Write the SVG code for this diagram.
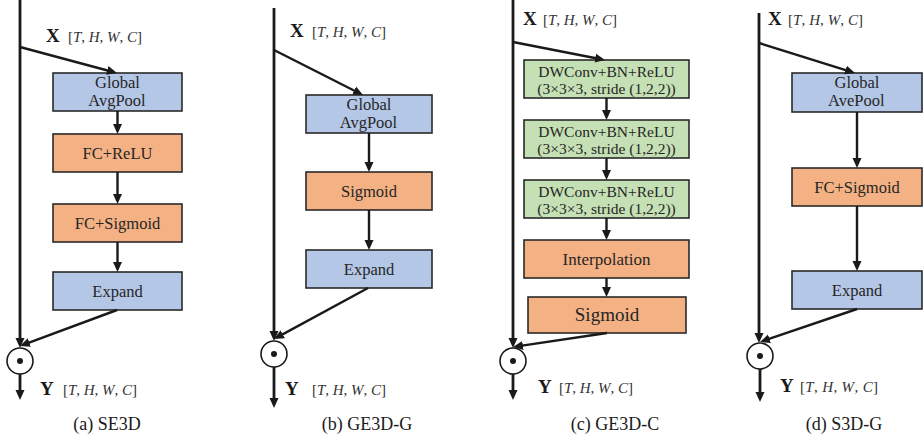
<svg xmlns="http://www.w3.org/2000/svg" width="923" height="442" viewBox="0 0 923 442">
<defs>
<marker id="ah" markerUnits="userSpaceOnUse" markerWidth="10" markerHeight="10" refX="6" refY="5" orient="auto">
<path d="M0,0.5 L10,5 L0,9.5 z" fill="#1a1a1a"/>
</marker>
</defs>
<style>
.bg{fill:#ffffff}
.box{stroke:#2a2a2a;stroke-width:1.6}
.blue{fill:#b4c7e7}
.orange{fill:#f4b183}
.green{fill:#c5e0b4}
.lab{font-size:19px;font-weight:bold;fill:#1a1a1a}
.math{font-size:15px;fill:#333}
.it{font-style:italic}
.arr{stroke:#1a1a1a;stroke-width:2.4;fill:none;marker-end:url(#ah)}
.mainarr{stroke:#1a1a1a;stroke-width:2.8;fill:none;marker-end:url(#ah)}
.odot{fill:#fff;stroke:#1a1a1a;stroke-width:1.6}
</style>
<rect class="bg" x="0" y="0" width="923" height="442"/>

<!-- Panel (a) -->
<g id="a_X"><text class="lab" x="46" y="42" style="font-family:'Liberation Serif',serif">X</text><text class="math" x="68" y="42" textLength="74" lengthAdjust="spacing" style="font-family:'Liberation Serif',serif">[<tspan class="it">T</tspan>, <tspan class="it">H</tspan>, <tspan class="it">W</tspan>, <tspan class="it">C</tspan>]</text></g>
<g id="a_gap"><rect class="box blue" x="53" y="73" width="129" height="38"/><text x="95" y="88" style="font-family:'Liberation Serif',serif;font-size:16.5px;fill:#262626">Global</text><text x="88.2" y="106" style="font-family:'Liberation Serif',serif;font-size:16.5px;fill:#262626">AvgPool</text></g>
<g id="a_fcrelu"><rect class="box orange" x="53" y="134" width="129" height="38"/><text x="82.6" y="159" style="font-family:'Liberation Serif',serif;font-size:16.5px;fill:#262626">FC+ReLU</text></g>
<g id="a_fcsig"><rect class="box orange" x="53" y="204" width="129" height="38"/><text x="74.8" y="229" style="font-family:'Liberation Serif',serif;font-size:16.5px;fill:#262626">FC+Sigmoid</text></g>
<g id="a_expand"><rect class="box blue" x="53" y="272" width="129" height="38"/><text x="92.3" y="297" style="font-family:'Liberation Serif',serif;font-size:16.5px;fill:#262626">Expand</text></g>
<g id="a_mul"><circle class="odot" cx="20" cy="361" r="13"/><circle cx="20" cy="361" r="3" fill="#1a1a1a"/></g>
<g id="a_Y"><text class="lab" x="40" y="395" style="font-family:'Liberation Serif',serif">Y</text><text class="math" x="63" y="395" textLength="74" lengthAdjust="spacing" style="font-family:'Liberation Serif',serif">[<tspan class="it">T</tspan>, <tspan class="it">H</tspan>, <tspan class="it">W</tspan>, <tspan class="it">C</tspan>]</text></g>
<text x="73.3" y="430" style="font-family:'Liberation Serif',serif;font-size:18px;fill:#1a1a1a">(a) SE3D</text>

<!-- Panel (b) -->
<g id="b_X"><text class="lab" x="290" y="37" style="font-family:'Liberation Serif',serif">X</text><text class="math" x="312" y="37" textLength="74" lengthAdjust="spacing" style="font-family:'Liberation Serif',serif">[<tspan class="it">T</tspan>, <tspan class="it">H</tspan>, <tspan class="it">W</tspan>, <tspan class="it">C</tspan>]</text></g>
<g id="b_gap"><rect class="box blue" x="306" y="95" width="126" height="38"/><text x="346.5" y="110" style="font-family:'Liberation Serif',serif;font-size:16.5px;fill:#262626">Global</text><text x="339.7" y="128" style="font-family:'Liberation Serif',serif;font-size:16.5px;fill:#262626">AvgPool</text></g>
<g id="b_sig"><rect class="box orange" x="306" y="172" width="126" height="38"/><text x="341" y="197" style="font-family:'Liberation Serif',serif;font-size:16.5px;fill:#262626">Sigmoid</text></g>
<g id="b_expand"><rect class="box blue" x="306" y="250" width="126" height="38"/><text x="343.8" y="275" style="font-family:'Liberation Serif',serif;font-size:16.5px;fill:#262626">Expand</text></g>
<g id="b_mul"><circle class="odot" cx="274" cy="354" r="13"/><circle cx="274" cy="354" r="3" fill="#1a1a1a"/></g>
<g id="b_Y"><text class="lab" x="285" y="395" style="font-family:'Liberation Serif',serif">Y</text><text class="math" x="312" y="395" textLength="74" lengthAdjust="spacing" style="font-family:'Liberation Serif',serif">[<tspan class="it">T</tspan>, <tspan class="it">H</tspan>, <tspan class="it">W</tspan>, <tspan class="it">C</tspan>]</text></g>
<text x="321.8" y="430" style="font-family:'Liberation Serif',serif;font-size:18px;fill:#1a1a1a">(b) GE3D-G</text>

<!-- Panel (c) -->
<g id="c_X"><text class="lab" x="523" y="25" style="font-family:'Liberation Serif',serif">X</text><text class="math" x="543" y="25" textLength="74" lengthAdjust="spacing" style="font-family:'Liberation Serif',serif">[<tspan class="it">T</tspan>, <tspan class="it">H</tspan>, <tspan class="it">W</tspan>, <tspan class="it">C</tspan>]</text></g>
<g id="c_dw1"><rect class="box green" x="524" y="60" width="165" height="38"/><text x="538.3" y="77" style="font-family:'Liberation Serif',serif;font-size:15.5px;fill:#262626">DWConv+BN+ReLU</text><text x="537.3" y="94" style="font-family:'Liberation Serif',serif;font-size:15.5px;fill:#262626">(3×3×3, stride (1,2,2))</text></g>
<g id="c_dw2"><rect class="box green" x="524" y="120" width="165" height="38"/><text x="538.3" y="137" style="font-family:'Liberation Serif',serif;font-size:15.5px;fill:#262626">DWConv+BN+ReLU</text><text x="537.3" y="154" style="font-family:'Liberation Serif',serif;font-size:15.5px;fill:#262626">(3×3×3, stride (1,2,2))</text></g>
<g id="c_dw3"><rect class="box green" x="524" y="180" width="165" height="38"/><text x="538.3" y="197" style="font-family:'Liberation Serif',serif;font-size:15.5px;fill:#262626">DWConv+BN+ReLU</text><text x="537.3" y="214" style="font-family:'Liberation Serif',serif;font-size:15.5px;fill:#262626">(3×3×3, stride (1,2,2))</text></g>
<g id="c_interp"><rect class="box orange" x="524" y="240" width="165" height="38"/><text x="562.6" y="265" style="font-family:'Liberation Serif',serif;font-size:17px;fill:#262626">Interpolation</text></g>
<g id="c_sig"><rect class="box orange" x="528" y="297" width="158" height="36"/><text x="574.8" y="321" style="font-family:'Liberation Serif',serif;font-size:19px;fill:#262626">Sigmoid</text></g>
<g id="c_mul"><circle class="odot" cx="513" cy="361" r="13"/><circle cx="513" cy="361" r="3" fill="#1a1a1a"/></g>
<g id="c_Y"><text class="lab" x="538" y="393" style="font-family:'Liberation Serif',serif">Y</text><text class="math" x="559" y="393" textLength="74" lengthAdjust="spacing" style="font-family:'Liberation Serif',serif">[<tspan class="it">T</tspan>, <tspan class="it">H</tspan>, <tspan class="it">W</tspan>, <tspan class="it">C</tspan>]</text></g>
<text x="570.8" y="430" style="font-family:'Liberation Serif',serif;font-size:18px;fill:#1a1a1a">(c) GE3D-C</text>

<!-- Panel (d) -->
<g id="d_X"><text class="lab" x="768" y="25" style="font-family:'Liberation Serif',serif">X</text><text class="math" x="788" y="25" textLength="75" lengthAdjust="spacing" style="font-family:'Liberation Serif',serif">[<tspan class="it">T</tspan>, <tspan class="it">H</tspan>, <tspan class="it">W</tspan>, <tspan class="it">C</tspan>]</text></g>
<g id="d_gap"><rect class="box blue" x="792" y="73" width="130" height="39"/><text x="834.5" y="88" style="font-family:'Liberation Serif',serif;font-size:16.5px;fill:#262626">Global</text><text x="828.1" y="106" style="font-family:'Liberation Serif',serif;font-size:16.5px;fill:#262626">AvePool</text></g>
<g id="d_fcsig"><rect class="box orange" x="792" y="168" width="130" height="38"/><text x="814.3" y="193" style="font-family:'Liberation Serif',serif;font-size:16.5px;fill:#262626">FC+Sigmoid</text></g>
<g id="d_expand"><rect class="box blue" x="792" y="271" width="130" height="38"/><text x="831.8" y="296" style="font-family:'Liberation Serif',serif;font-size:16.5px;fill:#262626">Expand</text></g>
<g id="d_mul"><circle class="odot" cx="760" cy="356" r="13"/><circle cx="760" cy="356" r="3" fill="#1a1a1a"/></g>
<g id="d_Y"><text class="lab" x="780" y="392" style="font-family:'Liberation Serif',serif">Y</text><text class="math" x="800" y="392" textLength="78" lengthAdjust="spacing" style="font-family:'Liberation Serif',serif">[<tspan class="it">T</tspan>, <tspan class="it">H</tspan>, <tspan class="it">W</tspan>, <tspan class="it">C</tspan>]</text></g>
<text x="805.8" y="430" style="font-family:'Liberation Serif',serif;font-size:18px;fill:#1a1a1a">(d) S3D-G</text>

<g id="connectors">
<path class="mainarr" d="M20,0 V344"/>
<path class="arr" d="M20,47 L113.1,72"/>
<path class="arr" d="M117.5,111 V130"/>
<path class="arr" d="M117.5,172 V200"/>
<path class="arr" d="M117.5,242 V268"/>
<path class="arr" d="M117,310 L23.7,344.6"/>
<path class="mainarr" d="M20,374 V396"/>
<path class="mainarr" d="M274,8 V337"/>
<path class="arr" d="M274,50 L359.4,93.2"/>
<path class="arr" d="M369,133 V168"/>
<path class="arr" d="M369,210 V246"/>
<path class="arr" d="M368,288 L277.5,337.1"/>
<path class="mainarr" d="M274,367 V404"/>
<path class="mainarr" d="M513,0 V344"/>
<path class="arr" d="M513,42 L601.1,59.2"/>
<path class="arr" d="M606.5,98 V116"/>
<path class="arr" d="M606.5,158 V176"/>
<path class="arr" d="M606.5,218 V236"/>
<path class="arr" d="M606.5,278 V293"/>
<path class="arr" d="M607,333 L517,346.4"/>
<path class="mainarr" d="M513,374 V396"/>
<path class="mainarr" d="M759,13 V339"/>
<path class="arr" d="M759,43 L851.2,71.8"/>
<path class="arr" d="M857,112 V164"/>
<path class="arr" d="M857,206 V267"/>
<path class="arr" d="M857,309 L763.8,340.7"/>
<path class="mainarr" d="M760,369 V398"/>
</g>
</svg>
